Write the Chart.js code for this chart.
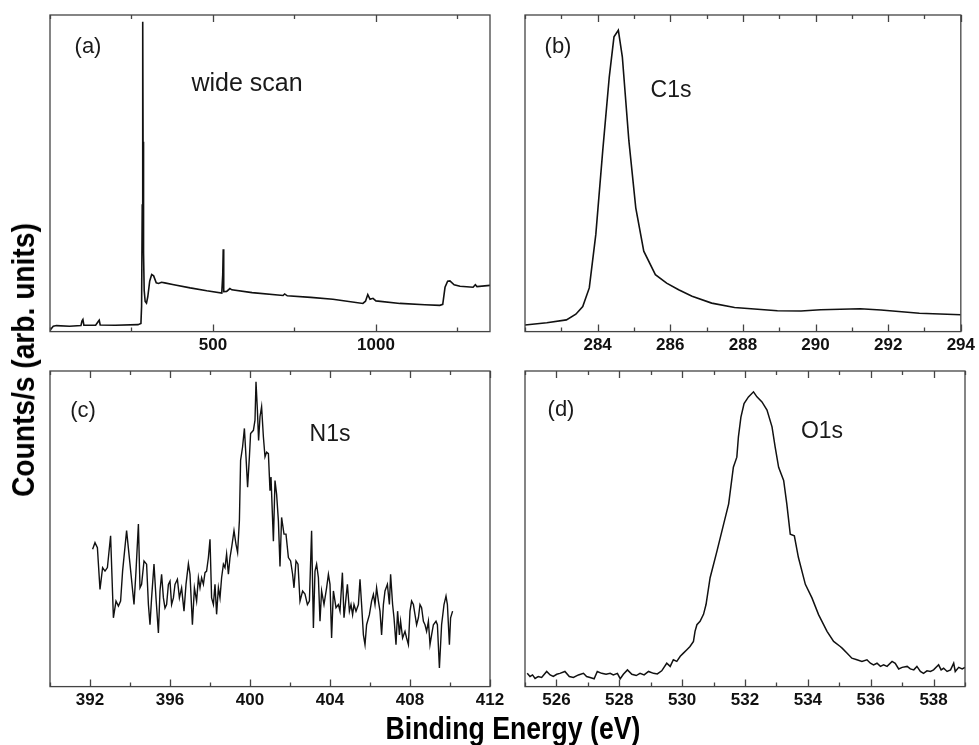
<!DOCTYPE html>
<html>
<head>
<meta charset="utf-8">
<script src="https://cdn.jsdelivr.net/npm/chart.js@4.4.1/dist/chart.umd.min.js"></script>
<style>
  html, body { margin: 0; padding: 0; background: #fff; width: 979px; height: 745px; overflow: hidden; }
  .panel { position: absolute; }
  .note { position: absolute; font-family: 'Liberation Sans', Arial, sans-serif; color: #1a1a1a; white-space: nowrap; line-height: 1; transform: translate(-50%, -50%); }
  .axtitle { position: absolute; font-family: 'Liberation Sans', Arial, sans-serif; font-weight: bold; font-size: 31px; color: #000; white-space: nowrap; line-height: 1; }
</style>
</head>
<body>
<canvas id="chartA" class="panel" style="left:30px;top:0px" width="480" height="363"></canvas>
<canvas id="chartB" class="panel" style="left:505px;top:0px" width="474" height="363"></canvas>
<canvas id="chartC" class="panel" style="left:30px;top:355px" width="480" height="363"></canvas>
<canvas id="chartD" class="panel" style="left:505px;top:355px" width="474" height="363"></canvas>

<div class="note" style="left:88px;top:46px;font-size:22px">(a)</div>
<div class="note" style="left:247px;top:82px;font-size:25px">wide scan</div>
<div class="note" style="left:558px;top:46px;font-size:22px">(b)</div>
<div class="note" style="left:671px;top:89px;font-size:23px">C1s</div>
<div class="note" style="left:83px;top:410px;font-size:22px">(c)</div>
<div class="note" style="left:330px;top:433px;font-size:23px">N1s</div>
<div class="note" style="left:561px;top:409px;font-size:22px">(d)</div>
<div class="note" style="left:822px;top:430px;font-size:23px">O1s</div>

<div class="axtitle" style="left:23px;top:360px;font-size:32px;transform:translate(-50%,-50%) rotate(-90deg) scaleX(0.88)">Counts/s (arb. units)</div>
<div class="axtitle" style="left:513px;top:728px;transform:translate(-50%,-50%) scaleX(0.86)">Binding Energy (eV)</div>

<script>
// Spectra as [binding energy (eV), counts (arb. units, 0-100 of panel height)]
const wideScan = [
    [0, 0.4], [10, 1.7], [20, 1.9], [60, 1.7], [95, 1.9], [98, 3.3], [101, 3.8], [104, 2.0],
    [140, 2.0], [148, 3.2], [151, 3.6], [154, 2.1], [200, 2.0], [270, 2.2], [279, 2.6],
    [281, 8], [283, 40], [284.5, 97.9], [285.5, 60], [287, 25], [289, 13], [292, 9.5],
    [296, 9.0], [300, 11], [306, 16], [312, 18], [318, 17.6], [326, 15.4], [333, 15.2],
    [342, 15.6], [352, 15.4], [380, 14.8], [430, 13.8], [481, 12.9], [527, 12.2], [530, 18],
    [531.5, 26], [533, 12.6], [542, 12.7], [552, 13.6], [558, 13.2], [620, 12.3], [715, 11.4],
    [720, 11.9], [728, 11.3], [800, 10.8], [868, 10.2], [960, 8.9], [968, 9.6], [975, 11.7],
    [982, 10.2], [991, 10.5], [1000, 9.7], [1074, 8.9], [1150, 8.5], [1196, 8.3], [1205, 8.6],
    [1212, 14.0], [1220, 15.9], [1227, 16.0], [1240, 14.8], [1258, 14.3], [1298, 14.0],
    [1305, 14.8], [1310, 14.2], [1350, 14.6]
];

const c1sScan = [
    [282.0, 2.1], [282.6, 2.8], [283.14, 3.7], [283.4, 5.5], [283.59, 7.9], [283.77, 13.8],
    [283.95, 30.7], [284.14, 57.1], [284.32, 80.4], [284.45, 93.1], [284.57, 95.2], [284.68, 86.8],
    [284.86, 60.3], [285.05, 39.1], [285.27, 25.4], [285.59, 18.0], [285.9, 15.3], [286.23, 13.2],
    [286.6, 11.2], [287.14, 9.0], [287.77, 7.6], [288.95, 6.6], [289.6, 6.5], [290.14, 6.9],
    [291.23, 7.2], [291.8, 6.8], [292.86, 5.8], [294.0, 5.3]
];

const n1sScan = [
    [392.13, 43.5], [392.25, 45.6], [392.37, 44.0], [392.50, 30.8], [392.63, 37.7], [392.75, 36.6],
    [392.87, 37.7], [393.03, 47.8], [393.17, 21.8], [393.30, 27.1], [393.42, 25.5], [393.53, 27.1],
    [393.63, 36.6], [393.83, 49.4], [394.0, 38.8], [394.2, 26.0], [394.3, 36.6], [394.42, 51.5],
    [394.5, 31.3], [394.58, 32.4], [394.7, 39.8], [394.83, 38.8], [394.92, 26.0], [395.0, 19.6],
    [395.08, 28.1], [395.2, 38.8], [395.3, 28.1], [395.42, 17.0], [395.5, 30.3], [395.58, 35.6],
    [395.67, 28.1], [395.75, 24.9], [395.83, 26.0], [395.92, 32.4], [396.0, 33.4], [396.08, 26.0],
    [396.17, 28.1], [396.25, 32.4], [396.37, 34.0], [396.47, 28.1], [396.58, 31.3], [396.7, 23.9],
    [396.8, 32.4], [396.92, 38.9], [397.0, 35.6], [397.12, 19.6], [397.22, 31.3], [397.33, 27.1],
    [397.42, 34.5], [397.5, 31.3], [397.58, 34.5], [397.67, 32.4], [397.75, 36.1], [397.83, 36.6],
    [397.92, 40.9], [398.0, 46.7], [398.08, 28.1], [398.17, 26.0], [398.25, 32.4], [398.33, 22.9],
    [398.42, 31.3], [398.5, 28.1], [398.58, 34.5], [398.67, 38.8], [398.75, 37.7], [398.83, 42.0],
    [398.92, 35.6], [399.0, 40.9], [399.08, 44.0], [399.2, 49.4], [399.3, 45.1], [399.38, 42.5],
    [399.47, 52.6], [399.53, 71.7], [399.63, 76.0], [399.72, 81.8], [399.8, 72.8], [399.88, 63.2],
    [399.97, 72.8], [400.03, 80.2], [400.17, 81.2], [400.25, 84.4], [400.3, 96.6], [400.37, 87.6],
    [400.43, 78.0], [400.5, 85.5], [400.58, 88.7], [400.67, 79.1], [400.75, 72.8], [400.83, 74.3],
    [400.92, 73.8], [401.0, 62.1], [401.05, 66.4], [401.17, 46.1], [401.25, 65.3], [401.33, 61.0],
    [401.42, 52.5], [401.5, 38.1], [401.58, 53.6], [401.7, 48.3], [401.8, 48.3], [401.92, 40.9],
    [402.03, 39.8], [402.13, 35.6], [402.2, 31.3], [402.3, 39.8], [402.4, 38.8], [402.5, 27.1],
    [402.63, 30.3], [402.75, 29.3], [402.87, 26.0], [402.97, 27.1], [403.08, 49.4], [403.17, 18.6],
    [403.25, 36.6], [403.33, 38.8], [403.42, 34.5], [403.5, 20.7], [403.58, 30.3], [403.7, 26.0],
    [403.83, 31.3], [403.92, 35.6], [404.0, 32.4], [404.08, 15.4], [404.17, 30.3], [404.3, 25.0],
    [404.42, 26.0], [404.5, 23.9], [404.62, 36.1], [404.7, 21.8], [404.8, 28.1], [404.87, 32.4],
    [404.97, 23.9], [405.05, 26.0], [405.13, 22.8], [405.2, 26.0], [405.3, 23.9], [405.42, 26.0],
    [405.5, 34.0], [405.58, 26.0], [405.67, 16.4], [405.75, 13.3], [405.83, 19.6], [405.97, 22.8],
    [406.08, 27.1], [406.17, 29.2], [406.25, 26.0], [406.33, 31.3], [406.42, 27.1], [406.5, 23.9],
    [406.58, 16.4], [406.67, 26.0], [406.75, 30.3], [406.87, 32.4], [406.97, 26.0], [407.03, 35.6],
    [407.13, 26.0], [407.2, 21.8], [407.3, 13.3], [407.38, 23.9], [407.47, 16.4], [407.53, 20.7],
    [407.63, 15.4], [407.75, 17.5], [407.83, 15.4], [407.92, 13.3], [408.0, 23.9], [408.08, 27.1],
    [408.17, 26.0], [408.25, 22.8], [408.33, 19.6], [408.42, 21.8], [408.5, 26.0], [408.58, 25.0],
    [408.67, 20.7], [408.75, 19.6], [408.83, 17.5], [408.92, 20.7], [409.0, 13.3], [409.08, 16.4],
    [409.17, 19.6], [409.3, 20.7], [409.37, 19.6], [409.47, 5.9], [409.58, 19.6], [409.7, 26.0],
    [409.8, 28.7], [409.87, 26.0], [409.97, 13.3], [410.03, 21.8], [410.13, 23.9]
];

const o1sScan = [
    [525.07, 4.2], [525.16, 3.2], [525.24, 3.7], [525.32, 2.6], [525.42, 3.2], [525.53, 2.9],
    [525.69, 4.8], [525.80, 3.7], [525.90, 3.2], [526.01, 3.9], [526.11, 4.2], [526.27, 4.8],
    [526.41, 3.2], [526.54, 2.9], [526.70, 3.7], [526.86, 4.2], [526.96, 3.2], [527.07, 2.9],
    [527.20, 2.5], [527.30, 4.8], [527.44, 4.2], [527.58, 3.9], [527.71, 4.2], [527.81, 3.7],
    [527.94, 4.2], [528.03, 2.5], [528.13, 3.9], [528.26, 5.3], [528.40, 3.9], [528.54, 3.5],
    [528.66, 4.2], [528.79, 3.7], [528.93, 4.8], [529.09, 4.2], [529.21, 4.0], [529.35, 5.0],
    [529.51, 7.4], [529.62, 6.4], [529.72, 8.5], [529.83, 8.0], [529.94, 9.6], [530.04, 10.6],
    [530.15, 11.7], [530.25, 12.7], [530.36, 14.3], [530.41, 17.5], [530.47, 19.6], [530.57, 20.7],
    [530.68, 22.9], [530.76, 26.0], [530.89, 34.5], [531.11, 43.0], [531.32, 51.5], [531.48, 57.9],
    [531.63, 69.5], [531.74, 72.7], [531.79, 79.1], [531.87, 85.4], [531.97, 89.7], [532.11, 91.8],
    [532.27, 93.4], [532.38, 91.8], [532.54, 90.2], [532.70, 87.6], [532.86, 82.3], [532.96, 75.9],
    [533.07, 69.5], [533.23, 65.3], [533.33, 57.9], [533.44, 48.3], [533.57, 47.8], [533.70, 40.9],
    [533.92, 32.4], [534.13, 28.1], [534.34, 22.8], [534.61, 17.5], [534.82, 14.3], [535.03, 12.7],
    [535.09, 12.2], [535.25, 10.6], [535.40, 9.0], [535.56, 8.5], [535.72, 8.0], [535.88, 8.5],
    [535.99, 7.4], [536.09, 6.9], [536.20, 7.4], [536.31, 6.4], [536.41, 6.9], [536.52, 6.4],
    [536.68, 8.0], [536.78, 7.4], [536.89, 5.6], [537.0, 6.1], [537.16, 6.4], [537.26, 5.6],
    [537.37, 5.3], [537.47, 6.4], [537.58, 4.8], [537.68, 4.2], [537.79, 5.0], [537.90, 4.8],
    [538.0, 5.3], [538.16, 6.9], [538.24, 5.3], [538.32, 5.8], [538.43, 4.8], [538.54, 5.3],
    [538.64, 7.4], [538.69, 4.8], [538.80, 6.1], [538.91, 5.6], [539.0, 6.1]
];

// Tick labels of each panel
const wideTicks = [500, 1000];
const c1sTicks = [284, 286, 288, 290, 292, 294];
const n1sTicks = [392, 396, 400, 404, 408, 412];
const o1sTicks = [526, 528, 530, 532, 534, 536, 538];

const tickFont = { family: "'Liberation Sans', Arial, sans-serif", weight: 'bold', size: 17 };

// Frame round the plot area and inward ticks (major + half-step minor) on top and bottom
const frameTicks = {
    id: 'frameTicks',
    afterDatasetsDraw(chart, args, opts) {
        const { ctx, chartArea: a, scales: { x } } = chart;
        const major = opts.major;
        const step = (major[1] - major[0]) / 2;
        ctx.save();
        ctx.strokeStyle = '#444';
        ctx.lineWidth = 1.3;
        ctx.strokeRect(a.left, a.top, a.right - a.left, a.bottom - a.top);
        ctx.beginPath();
        let v = major[0] - step * Math.floor((major[0] - x.min) / step);
        for (; v <= x.max + 1e-9; v += step) {
            const px = Math.round(x.getPixelForValue(v)) + 0.5;
            const len = major.includes(v) ? 7 : 4;
            ctx.moveTo(px, a.bottom);
            ctx.lineTo(px, a.bottom - len);
            ctx.moveTo(px, a.top);
            ctx.lineTo(px, a.top + len);
        }
        ctx.stroke();
        ctx.restore();
    }
};

function makePanel(id, spectrum, xMin, xMax, ticks, lineWidth, padding) {
    new Chart(document.getElementById(id), {
        type: 'scatter',
        data: {
            datasets: [{
                data: spectrum.map(p => ({ x: p[0], y: p[1] })),
                showLine: true,
                borderColor: '#111',
                borderWidth: lineWidth,
                pointRadius: 0,
                tension: 0
            }]
        },
        options: {
            responsive: false,
            animation: false,
            events: [],
            layout: { padding: padding },
            plugins: {
                legend: { display: false },
                tooltip: { enabled: false },
                frameTicks: { major: ticks }
            },
            scales: {
                x: {
                    type: 'linear',
                    min: xMin,
                    max: xMax,
                    afterBuildTicks: scale => { scale.ticks = ticks.map(v => ({ value: v })); },
                    grid: { display: false, drawTicks: false },
                    border: { display: false },
                    ticks: {
                        color: '#111',
                        padding: 4,
                        maxRotation: 0,
                        autoSkip: false,
                        font: tickFont,
                        callback: v => String(v)
                    }
                },
                y: { display: false, min: 0, max: 100 }
            }
        },
        plugins: [frameTicks]
    });
}

makePanel('chartA', wideScan, 0, 1350, wideTicks, 1.6, { left: 20, right: 20, top: 15, bottom: 3 });
makePanel('chartB', c1sScan, 282, 294, c1sTicks, 1.6, { left: 20, right: 14, top: 15, bottom: 3 });
makePanel('chartC', n1sScan, 390, 412, n1sTicks, 1.4, { left: 20, right: 20, top: 16, bottom: 3 });
makePanel('chartD', o1sScan, 525, 539, o1sTicks, 1.5, { left: 20, right: 14, top: 16, bottom: 3 });
</script>
</body>
</html>
